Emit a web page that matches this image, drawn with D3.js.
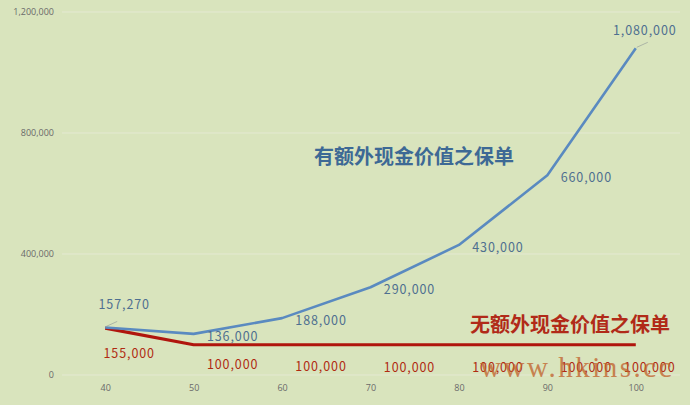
<!DOCTYPE html>
<html lang="zh">
<head>
<meta charset="utf-8">
<title>现金价值</title>
<style type="text/css">
    body { margin: 0; background: #d9e4bd; }
    svg { display: block; }
</style>
<script type="text/javascript" src="https://cdn.jsdelivr.net/npm/d3@7"></script>
</head>
<body>
<script type="text/javascript">
    // data
    var ages = [40, 50, 60, 70, 80, 90, 100];
    var withExtra = [157270, 136000, 188000, 290000, 430000, 660000, 1080000];
    var withoutExtra = [155000, 100000, 100000, 100000, 100000, 100000, 100000];
    var yTicks = [0, 400000, 800000, 1200000];
    var nameWith = "有额外现金价值之保单";
    var nameWithout = "无额外现金价值之保单";

    var svgW = 690, svgH = 405;
    var svg = d3.select("body").append("svg")
        .attr("width", svgW)
        .attr("height", svgH);

    svg.append("rect").attr("width", svgW).attr("height", svgH).attr("fill", "#d9e4bd");

    var x = d3.scalePoint().domain(ages).range([61, 680]).padding(0.5);
    var y = d3.scaleLinear().domain([0, 1200000]).range([375, 12]);

    var cjk = "'Noto Sans CJK SC', 'Microsoft YaHei', sans-serif";
    var fmt = d3.format(",");

    /* GRID + AXES */
    svg.append("g").selectAll("line").data(yTicks).join("line")
        .attr("x1", 62).attr("x2", 680)
        .attr("y1", function (d) { return y(d); })
        .attr("y2", function (d) { return y(d); })
        .attr("stroke", "#e4e9d2")
        .attr("stroke-width", 1);

    var yAxis = svg.append("g")
        .attr("transform", "translate(58,0)")
        .call(d3.axisLeft(y).tickValues(yTicks).tickFormat(fmt).tickSize(0).tickPadding(4));
    yAxis.select(".domain").remove();
    yAxis.selectAll("text")
        .attr("fill", "#6a6a6a")
        .attr("font-family", "'Open Sans', sans-serif")
        .attr("font-size", 9);

    var xAxis = svg.append("g")
        .attr("transform", "translate(0,382)")
        .call(d3.axisBottom(x).tickSize(0).tickPadding(3));
    xAxis.select(".domain").remove();
    xAxis.selectAll("text")
        .attr("fill", "#6a6a6a")
        .attr("font-family", "'Open Sans', sans-serif")
        .attr("font-size", 9);

    /* LINES */
    var line = d3.line()
        .x(function (d, i) { return x(ages[i]); })
        .y(function (d) { return y(d); });

    svg.append("path")
        .datum(withoutExtra)
        .attr("d", line)
        .attr("fill", "none")
        .attr("stroke", "#b0150d")
        .attr("stroke-width", 3.2)
        .attr("stroke-linejoin", "round");

    svg.append("path")
        .datum(withExtra)
        .attr("d", line)
        .attr("fill", "none")
        .attr("stroke", "#5a8ac0")
        .attr("stroke-width", 2.6)
        .attr("stroke-linejoin", "round");

    /* DATA LABELS */
    var last = ages.length - 1;

    // leader lines for the first and last blue labels
    [0, last].forEach(function (i) {
        var px = x(ages[i]), py = y(withExtra[i]);
        svg.append("line")
            .attr("x1", px + 1).attr("y1", py - 1)
            .attr("x2", px + 12).attr("y2", py - 6)
            .attr("stroke", "#a0a8a0")
            .attr("stroke-width", 0.8);
    });

    svg.append("g").selectAll("text").data(withExtra).join("text")
        .text(function (d) { return fmt(d); })
        .attr("x", function (d, i) {
            var px = x(ages[i]);
            if (i === 0) return px + 19;
            if (i === last) return px + 9;
            return px + 39;
        })
        .attr("y", function (d, i) {
            var py = y(d);
            if (i === 0) return py - 18;
            if (i === last) return py - 13;
            return py + 7;
        })
        .attr("text-anchor", "middle")
        .attr("fill", "#4e6f90")
        .attr("font-family", cjk)
        .attr("font-size", 12.5)
        .attr("letter-spacing", 0.9);

    svg.append("g").selectAll("text").data(withoutExtra).join("text")
        .text(function (d) { return fmt(d); })
        .attr("x", function (d, i) {
            var px = x(ages[i]);
            if (i === 0) return px + 24;
            if (i === last) return px + 14;
            return px + 39;
        })
        .attr("y", function (d, i) {
            var py = y(d);
            if (i === 0) return py + 30;
            return py + 23 + Math.min(i, 3) * 1.5;
        })
        .attr("text-anchor", "middle")
        .attr("fill", "#b02a12")
        .attr("font-family", cjk)
        .attr("font-size", 12.5)
        .attr("letter-spacing", 0.9);

    /* SERIES NAMES */
    svg.append("text")
        .text(nameWith)
        .attr("x", 314).attr("y", 164)
        .attr("fill", "#3d6995")
        .attr("font-family", cjk)
        .attr("font-weight", "bold")
        .attr("font-size", 20);

    svg.append("text")
        .text(nameWithout)
        .attr("x", 470).attr("y", 332)
        .attr("fill", "#b12a18")
        .attr("font-family", cjk)
        .attr("font-weight", "bold")
        .attr("font-size", 20);

    /* WATERMARK */
    svg.append("text")
        .text("www.hkins.cc")
        .attr("x", 480).attr("y", 377)
        .attr("fill", "#c0602a")
        .attr("opacity", 0.75)
        .attr("font-family", "'Liberation Serif', serif")
        .attr("font-size", 29)
        .attr("letter-spacing", 2.5);
</script>
</body>
</html>
